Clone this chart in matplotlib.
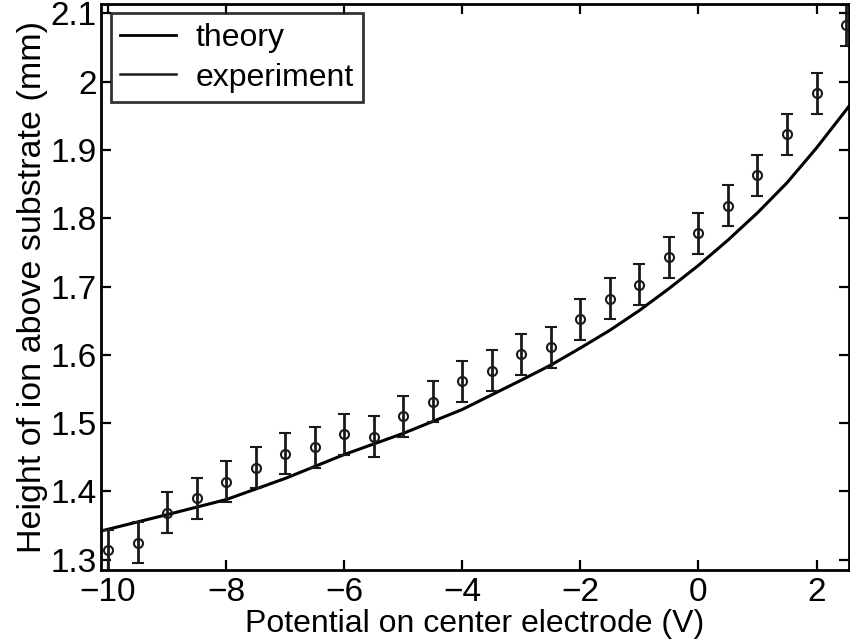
import numpy as np
import matplotlib
matplotlib.use('Agg')
import matplotlib.pyplot as plt
from matplotlib.lines import Line2D

# experiment: potential (V) vs ion height (mm)
volts = [-10, -9.5, -9, -8.5, -8, -7.5, -7, -6.5, -6, -5.5, -5, -4.5, -4,
         -3.5, -3, -2.5, -2, -1.5, -1, -0.5, 0, 0.5, 1, 1.5, 2, 2.5]
height = [1.314, 1.325, 1.369, 1.390, 1.414, 1.435, 1.455, 1.465, 1.484, 1.480,
          1.510, 1.531, 1.561, 1.577, 1.601, 1.611, 1.652, 1.682, 1.703, 1.743,
          1.778, 1.818, 1.863, 1.923, 1.983, 2.083]
err = [0.03] * len(volts)

# theory curve
theory_v = [-10.12, -9, -8, -7, -6, -5, -4, -3, -2.5, -2, -1.5, -1, -0.5, 0,
            0.5, 1, 1.5, 2, 2.55]
theory_h = [1.342, 1.366, 1.388, 1.419, 1.454, 1.485, 1.520, 1.563, 1.585,
            1.610, 1.636, 1.665, 1.697, 1.731, 1.768, 1.808, 1.852, 1.903, 1.964]

plt.rcParams['font.family'] = ['Liberation Sans', 'DejaVu Sans']

fig = plt.figure(figsize=(8.5, 6.44), dpi=100)
ax = fig.add_axes([0.1188, 0.115, 0.880, 0.879])

ax.plot(theory_v, theory_h, color='black', lw=2.2, label='theory')
ax.errorbar(volts, height, yerr=err, fmt='o', color='#1a1a1a', mfc='none',
            ms=6.5, mew=1.5, elinewidth=2.0, capsize=4.5, capthick=2.0,
            label='experiment')

ax.set_xlim(-10.12, 2.55)
ax.set_ylim(1.285, 2.114)
ax.set_xticks([-10, -8, -6, -4, -2, 0, 2])
ax.set_yticks([1.3, 1.4, 1.5, 1.6, 1.7, 1.8, 1.9, 2.0, 2.1])
ax.set_yticklabels(['1.3', '1.4', '1.5', '1.6', '1.7', '1.8', '1.9', '2', '2.1'])
ax.set_xticklabels(['\u221210', '\u22128', '\u22126', '\u22124', '\u22122', '0', '2'])
ax.tick_params(direction='in', top=True, right=True, length=7, width=1.6,
               labelsize=24, pad=5)
ax.tick_params(axis='y', pad=3)
for s in ax.spines.values():
    s.set_linewidth(2.0)

ax.set_xlabel('Potential on center electrode (V)', fontsize=23, labelpad=1)
ax.set_ylabel('Height of ion above substrate (mm)', fontsize=24.5, labelpad=2)

handles = [Line2D([], [], color='black', lw=2.0),
           Line2D([], [], color='#1a1a1a', lw=1.8)]
leg = ax.legend(handles, ['theory', 'experiment'], loc='upper left',
                fontsize=23, frameon=True, fancybox=False, edgecolor='black',
                handlelength=1.75, borderpad=0.3, labelspacing=0.3,
                handletextpad=0.6, borderaxespad=0.3)
leg.get_frame().set_linewidth(2.0)

plt.savefig('out.png', dpi=100)
